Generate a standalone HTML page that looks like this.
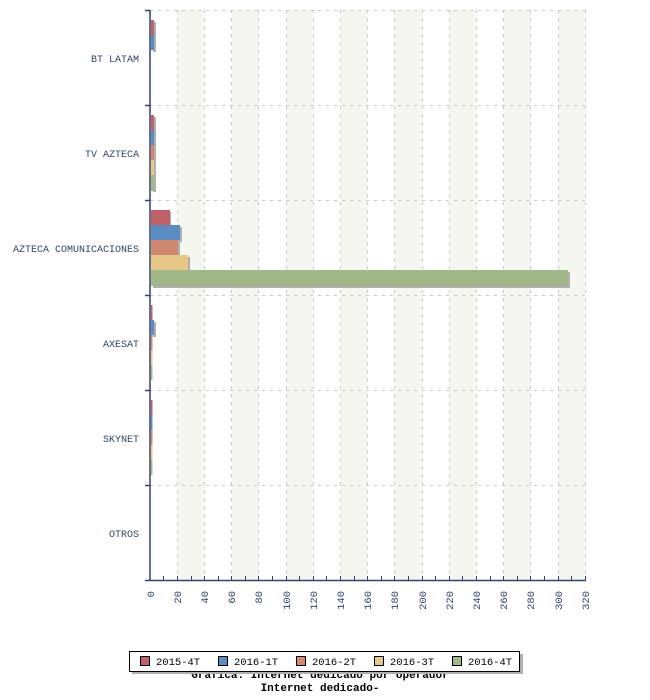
<!DOCTYPE html>
<html><head><meta charset="utf-8"><style>body{margin:0;background:#fff}svg{display:block}</style></head><body>
<svg width="650" height="700" xmlns="http://www.w3.org/2000/svg" font-family="Liberation Mono, monospace">
<g fill="#f6f6f1">
<rect x="177.2" y="10" width="27.2" height="570"/><rect x="231.6" y="10" width="27.2" height="570"/><rect x="286" y="10" width="27.2" height="570"/><rect x="340.4" y="10" width="27.2" height="570"/><rect x="394.8" y="10" width="27.2" height="570"/><rect x="449.2" y="10" width="27.2" height="570"/><rect x="503.6" y="10" width="27.2" height="570"/><rect x="558" y="10" width="27" height="570"/>
</g>
<g stroke="#c8c8c8" stroke-dasharray="3,5" stroke-width="1">
<line x1="177.5" y1="10" x2="177.5" y2="580"/><line x1="204.5" y1="10" x2="204.5" y2="580"/><line x1="231.5" y1="10" x2="231.5" y2="580"/><line x1="258.5" y1="10" x2="258.5" y2="580"/><line x1="286.5" y1="10" x2="286.5" y2="580"/><line x1="313.5" y1="10" x2="313.5" y2="580"/><line x1="340.5" y1="10" x2="340.5" y2="580"/><line x1="367.5" y1="10" x2="367.5" y2="580"/><line x1="394.5" y1="10" x2="394.5" y2="580"/><line x1="422.5" y1="10" x2="422.5" y2="580"/><line x1="449.5" y1="10" x2="449.5" y2="580"/><line x1="476.5" y1="10" x2="476.5" y2="580"/><line x1="503.5" y1="10" x2="503.5" y2="580"/><line x1="530.5" y1="10" x2="530.5" y2="580"/><line x1="558.5" y1="10" x2="558.5" y2="580"/><line x1="585.5" y1="10" x2="585.5" y2="580"/>
<line x1="150" y1="10.5" x2="585" y2="10.5"/><line x1="150" y1="105.5" x2="585" y2="105.5"/><line x1="150" y1="200.5" x2="585" y2="200.5"/><line x1="150" y1="295.5" x2="585" y2="295.5"/><line x1="150" y1="390.5" x2="585" y2="390.5"/><line x1="150" y1="485.5" x2="585" y2="485.5"/>
</g>
<g fill="#b0b0b0">
<rect x="153" y="22" width="3" height="30"/>
<rect x="153" y="117" width="3" height="75"/>
<rect x="153" y="212" width="18" height="15"/><rect x="153" y="227" width="29" height="15"/><rect x="153" y="242" width="27" height="15"/><rect x="153" y="257" width="37" height="15"/><rect x="153" y="272" width="417" height="16"/>
<rect x="153" y="322" width="3" height="15"/>
</g>
<g>
<rect x="151" y="20" width="3" height="15" fill="#c0606a"/><rect x="151" y="35" width="3" height="15" fill="#5a8cc0"/>
<rect x="151" y="115" width="3" height="15" fill="#c0606a"/><rect x="151" y="130" width="3" height="15" fill="#5a8cc0"/><rect x="151" y="145" width="3" height="15" fill="#d08870"/><rect x="151" y="160" width="3" height="15" fill="#e8c888"/><rect x="151" y="175" width="3" height="16" fill="#a0b888"/>
<rect x="151" y="210" width="19" height="15" fill="#c0606a"/><rect x="151" y="225" width="29" height="15" fill="#5a8cc0"/><rect x="151" y="240" width="27" height="15" fill="#d08870"/><rect x="151" y="255" width="37" height="15" fill="#e8c888"/><rect x="151" y="270" width="417" height="16" fill="#a0b888"/>
<rect x="151" y="305" width="1.5" height="15" fill="#c0606a"/><rect x="151" y="320" width="3" height="15" fill="#5a8cc0"/><rect x="151" y="335" width="1.5" height="15" fill="#d08870"/><rect x="151" y="350" width="1.5" height="15" fill="#e8c888"/><rect x="151" y="365" width="1.5" height="15" fill="#a0b888"/>
<rect x="151" y="400" width="1.5" height="15" fill="#c0606a"/><rect x="151" y="415" width="1.5" height="15" fill="#5a8cc0"/><rect x="151" y="430" width="1.5" height="15" fill="#d08870"/><rect x="151" y="445" width="1.5" height="15" fill="#e8c888"/><rect x="151" y="460" width="1.5" height="15" fill="#a0b888"/>
</g>
<g stroke="#334466" stroke-width="1.5">
<line x1="150" y1="10" x2="150" y2="580"/><line x1="145" y1="580.5" x2="586" y2="580.5"/>
<line x1="145" y1="10.5" x2="150" y2="10.5"/><line x1="145" y1="105.5" x2="150" y2="105.5"/><line x1="145" y1="200.5" x2="150" y2="200.5"/><line x1="145" y1="295.5" x2="150" y2="295.5"/><line x1="145" y1="390.5" x2="150" y2="390.5"/><line x1="145" y1="485.5" x2="150" y2="485.5"/>
</g>
<g stroke="#334466" stroke-width="1">
<line x1="163.5" y1="576" x2="163.5" y2="580"/><line x1="177.5" y1="576" x2="177.5" y2="580"/><line x1="191.5" y1="576" x2="191.5" y2="580"/><line x1="204.5" y1="576" x2="204.5" y2="580"/><line x1="218.5" y1="576" x2="218.5" y2="580"/><line x1="231.5" y1="576" x2="231.5" y2="580"/><line x1="245.5" y1="576" x2="245.5" y2="580"/><line x1="258.5" y1="576" x2="258.5" y2="580"/><line x1="272.5" y1="576" x2="272.5" y2="580"/><line x1="286.5" y1="576" x2="286.5" y2="580"/><line x1="299.5" y1="576" x2="299.5" y2="580"/><line x1="313.5" y1="576" x2="313.5" y2="580"/><line x1="326.5" y1="576" x2="326.5" y2="580"/><line x1="340.5" y1="576" x2="340.5" y2="580"/><line x1="354.5" y1="576" x2="354.5" y2="580"/><line x1="367.5" y1="576" x2="367.5" y2="580"/><line x1="381.5" y1="576" x2="381.5" y2="580"/><line x1="394.5" y1="576" x2="394.5" y2="580"/><line x1="408.5" y1="576" x2="408.5" y2="580"/><line x1="422.5" y1="576" x2="422.5" y2="580"/><line x1="435.5" y1="576" x2="435.5" y2="580"/><line x1="449.5" y1="576" x2="449.5" y2="580"/><line x1="462.5" y1="576" x2="462.5" y2="580"/><line x1="476.5" y1="576" x2="476.5" y2="580"/><line x1="490.5" y1="576" x2="490.5" y2="580"/><line x1="503.5" y1="576" x2="503.5" y2="580"/><line x1="517.5" y1="576" x2="517.5" y2="580"/><line x1="530.5" y1="576" x2="530.5" y2="580"/><line x1="544.5" y1="576" x2="544.5" y2="580"/><line x1="558.5" y1="576" x2="558.5" y2="580"/><line x1="571.5" y1="576" x2="571.5" y2="580"/><line x1="585.5" y1="576" x2="585.5" y2="580"/>
</g>
<g font-size="10" fill="#334466" text-anchor="end">
<text x="139" y="62">BT LATAM</text><text x="139" y="157">TV AZTECA</text><text x="139" y="252">AZTECA COMUNICACIONES</text><text x="139" y="347">AXESAT</text><text x="139" y="442">SKYNET</text><text x="139" y="537">OTROS</text>
</g>
<g font-size="10.5" fill="#334466" text-anchor="end">
<text transform="translate(154,591) rotate(-90)">0</text><text transform="translate(181,591) rotate(-90)">20</text><text transform="translate(208,591) rotate(-90)">40</text><text transform="translate(235,591) rotate(-90)">60</text><text transform="translate(262,591) rotate(-90)">80</text><text transform="translate(290,591) rotate(-90)">100</text><text transform="translate(317,591) rotate(-90)">120</text><text transform="translate(344,591) rotate(-90)">140</text><text transform="translate(371,591) rotate(-90)">160</text><text transform="translate(398,591) rotate(-90)">180</text><text transform="translate(426,591) rotate(-90)">200</text><text transform="translate(453,591) rotate(-90)">220</text><text transform="translate(480,591) rotate(-90)">240</text><text transform="translate(507,591) rotate(-90)">260</text><text transform="translate(534,591) rotate(-90)">280</text><text transform="translate(562,591) rotate(-90)">300</text><text transform="translate(589,591) rotate(-90)">320</text>
</g>
<g font-size="11" font-weight="bold" fill="#000" text-anchor="middle">
<text x="320" y="678">Grafica: Internet dedicado por operador</text>
<text x="320" y="691">Internet dedicado-</text>
</g>
<rect x="132" y="654" width="391" height="20" fill="#b0b0b0"/>
<rect x="129.5" y="651.5" width="390" height="20" fill="#fff" stroke="#000" stroke-width="1"/>
<g stroke="#000" stroke-width="1">
<rect x="140.5" y="656.5" width="9" height="9" fill="#c0606a"/><rect x="218.5" y="656.5" width="9" height="9" fill="#5a8cc0"/><rect x="296.5" y="656.5" width="9" height="9" fill="#d08870"/><rect x="374.5" y="656.5" width="9" height="9" fill="#e8c888"/><rect x="452.5" y="656.5" width="9" height="9" fill="#a0b888"/>
</g>
<g font-size="10.5" fill="#000">
<text x="156" y="665">2015-4T</text><text x="234" y="665">2016-1T</text><text x="312" y="665">2016-2T</text><text x="390" y="665">2016-3T</text><text x="468" y="665">2016-4T</text>
</g>
</svg>
</body></html>
